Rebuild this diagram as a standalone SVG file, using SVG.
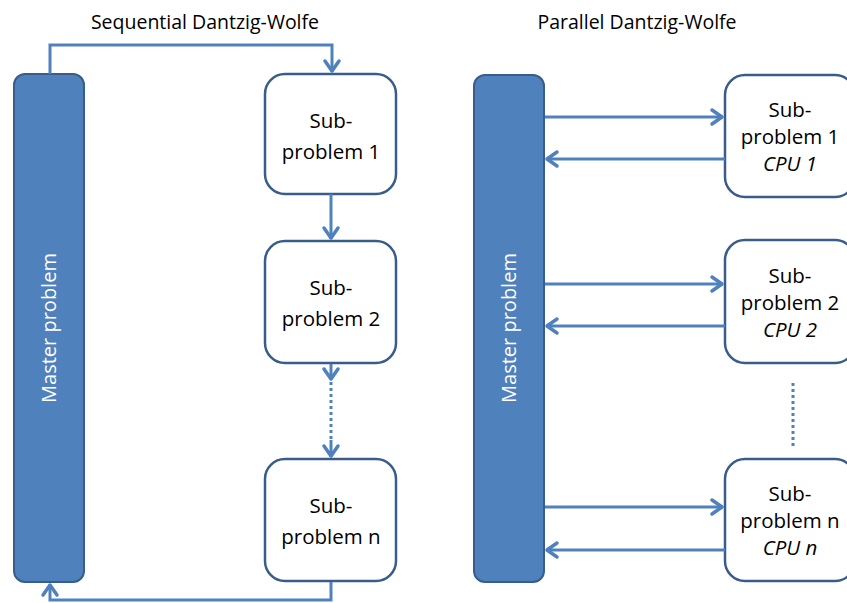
<svg xmlns="http://www.w3.org/2000/svg" width="847" height="603" viewBox="0 0 847 603">
<defs>
<marker id="arr" markerUnits="userSpaceOnUse" markerWidth="20" markerHeight="20" viewBox="-14 -10 16 20" refX="0" refY="0" orient="auto">
<path d="M-11,-7 L-1,0 L-11,7" fill="none" stroke="#4f81bd" stroke-width="3.5" stroke-linecap="round" stroke-linejoin="round"/>
</marker>
<style>
.master{fill:#4f81bd;stroke:#385d8a;stroke-width:2}
.box{fill:#fff;stroke:#385d8a;stroke-width:2.5}
.c{fill:none;stroke:#4f81bd;stroke-width:3}
.d{fill:none;stroke:#4f81bd;stroke-width:3;stroke-dasharray:3 3}
.t{font-family:"Open Sans","Liberation Sans",sans-serif;font-size:20.5px;fill:#000;text-anchor:middle}
.ti{font-family:"Open Sans","Liberation Sans",sans-serif;font-size:19.5px;fill:#000;text-anchor:middle}
.mt{font-family:"Open Sans","Liberation Sans",sans-serif;font-size:20px;fill:#fff;text-anchor:middle}
.it{font-style:italic}
</style>
</defs>
<text class="ti" x="205" y="29">Sequential Dantzig-Wolfe</text>
<text class="ti" x="637" y="29">Parallel Dantzig-Wolfe</text>
<g id="master-seq">
<rect class="master" x="14" y="74" width="70" height="508" rx="11"/>
<text class="mt" transform="translate(56,328) rotate(-90)">Master problem</text>
</g>
<g id="seq-sub1">
<rect class="box" x="265" y="74" width="131" height="120" rx="20"/>
<text class="t" x="331" y="128">Sub-</text>
<text class="t" x="331" y="159">problem 1</text>
</g>
<g id="seq-sub2">
<rect class="box" x="265" y="241" width="131" height="122" rx="20"/>
<text class="t" x="331" y="295">Sub-</text>
<text class="t" x="331" y="326">problem 2</text>
</g>
<g id="seq-subn">
<rect class="box" x="265" y="459" width="131" height="122" rx="20"/>
<text class="t" x="331" y="513">Sub-</text>
<text class="t" x="331" y="544">problem n</text>
</g>
<g id="master-par">
<rect class="master" x="474" y="75" width="70" height="507" rx="11"/>
<text class="mt" transform="translate(516,328) rotate(-90)">Master problem</text>
</g>
<g id="par-sub1">
<rect class="box" x="725" y="75" width="130" height="122" rx="20"/>
<text class="t" x="790" y="117">Sub-</text>
<text class="t" x="790" y="144">problem 1</text>
<text class="t it" x="790" y="171">CPU 1</text>
</g>
<g id="par-sub2">
<rect class="box" x="725" y="240" width="130" height="123" rx="20"/>
<text class="t" x="790" y="283">Sub-</text>
<text class="t" x="790" y="310">problem 2</text>
<text class="t it" x="790" y="337">CPU 2</text>
</g>
<g id="par-subn">
<rect class="box" x="725" y="459" width="130" height="122" rx="20"/>
<text class="t" x="790" y="501">Sub-</text>
<text class="t" x="790" y="528">problem n</text>
<text class="t it" x="790" y="555">CPU n</text>
</g>
<g id="connectors">
<path class="c" d="M50,74 V45 H332 V72" marker-end="url(#arr)"/>
<path class="c" d="M331,194 V239" marker-end="url(#arr)"/>
<path class="c" d="M331,364 V380" marker-end="url(#arr)"/>
<path class="d" d="M331,382 V440"/>
<path class="c" d="M331,440 V457" marker-end="url(#arr)"/>
<path class="c" d="M331,582 V600 H50 V584" marker-end="url(#arr)"/>
<path class="c" d="M545,117 H723" marker-end="url(#arr)"/>
<path class="c" d="M725,159 H546" marker-end="url(#arr)"/>
<path class="c" d="M545,284 H723" marker-end="url(#arr)"/>
<path class="c" d="M725,326 H546" marker-end="url(#arr)"/>
<path class="c" d="M545,507 H723" marker-end="url(#arr)"/>
<path class="c" d="M725,550 H546" marker-end="url(#arr)"/>
<path class="d" d="M793,383 V449"/>
</g>
</svg>
